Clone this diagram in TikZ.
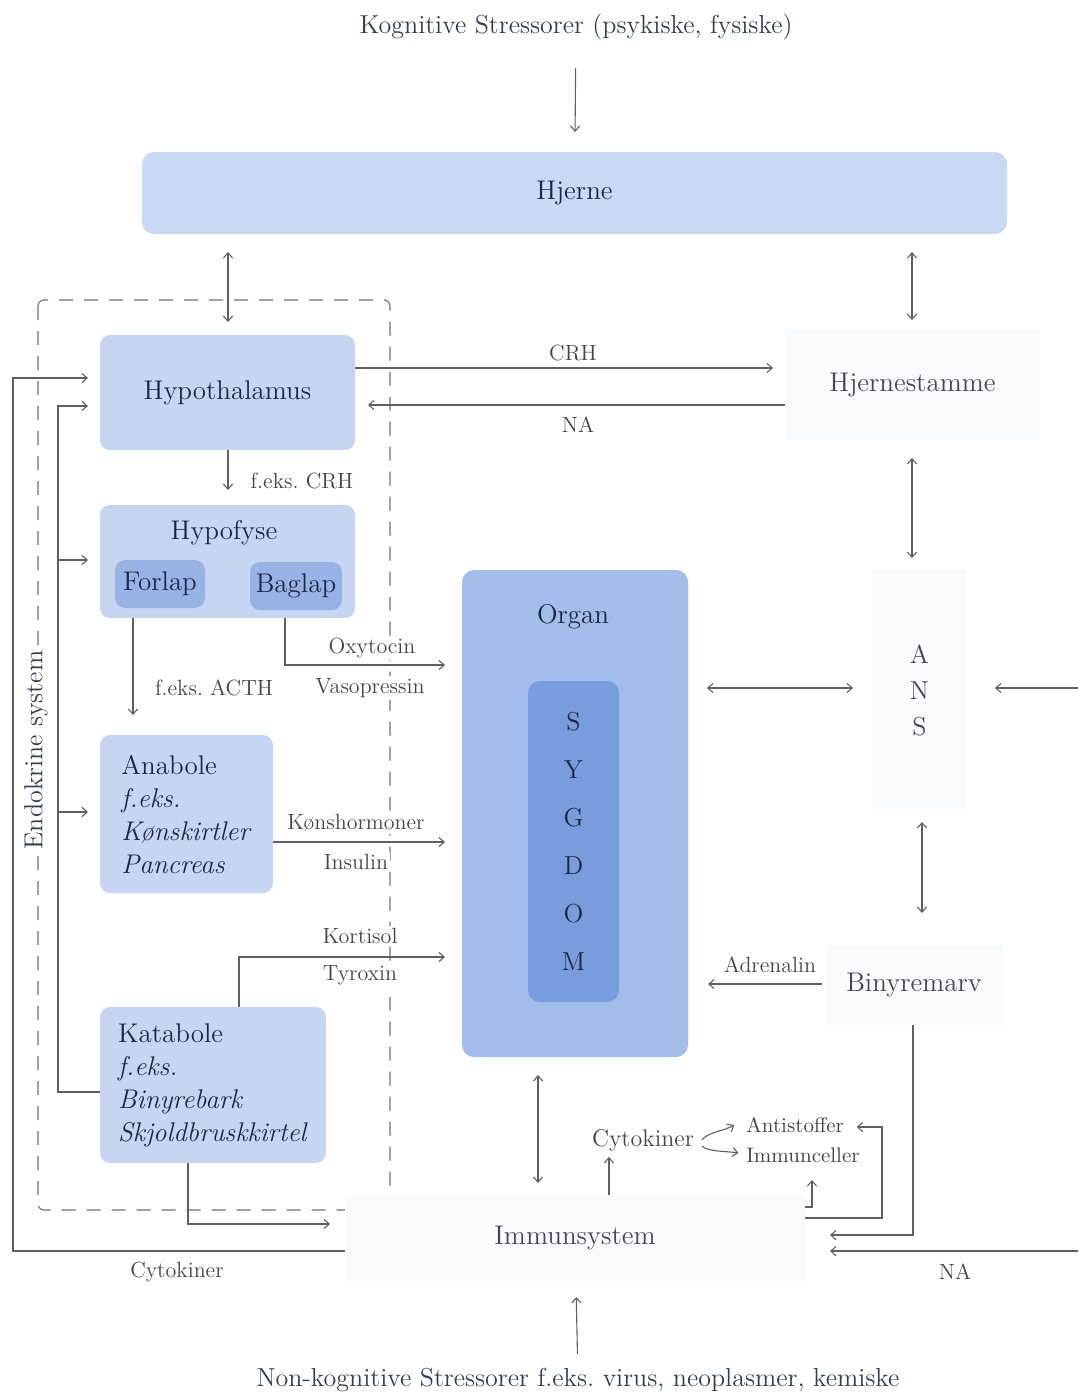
\documentclass[tikz,border=0pt]{standalone}
\usepackage{fontspec}
\usetikzlibrary{arrows.meta,calc}
\frenchspacing
\definecolor{textc}{HTML}{1D2640}
\definecolor{labc}{HTML}{454545}
\definecolor{linec}{HTML}{606060}
\definecolor{boxA}{HTML}{C6D6F2}
\definecolor{boxHj}{HTML}{C9D9F3}
\definecolor{boxSub}{HTML}{97B3E5}
\definecolor{boxOrg}{HTML}{A3BDEA}
\definecolor{boxSyg}{HTML}{789DDF}
\definecolor{boxFaint}{HTML}{F9FAFB}
\newcommand\boxfont{\fontsize{13.5}{16.5}\selectfont}
\newcommand\labfont{\fontsize{11}{13}\selectfont}
% box from corner (x1,y1) to (x2,y2), given in picture units
\newcommand\placebox[7]{\node[#6, minimum width={(#4-#2)*0.5pt}, minimum height={(#5-#3)*0.5pt}] (#1) at ({(#2+#4)/2},{(#3+#5)/2}) {#7};}
\begin{document}
\begin{tikzpicture}[x=0.5pt,y=-0.5pt,
  every node/.style={inner sep=0pt, outer sep=0pt},
  blk/.style={fill=boxA, rounded corners=5pt, text=textc, font=\boxfont, align=left},
  hjbox/.style={fill=boxHj, rounded corners=6pt, text=textc, font=\boxfont},
  subbox/.style={fill=boxSub, rounded corners=5pt, text=textc, font=\boxfont},
  organbox/.style={fill=boxOrg, rounded corners=6pt},
  sygbox/.style={fill=boxSyg, rounded corners=6pt, text=textc, align=center, font=\fontsize{13}{24}\selectfont},
  faint/.style={fill=boxFaint, text=textc!85, font=\boxfont, align=center},
  ttl/.style={text=textc, font=\boxfont},
  lab/.style={text=labc, font=\labfont, fill=white, inner sep=1pt},
  ln/.style={draw=linec, line width=0.55pt},
  arr/.style={ln, -{Straight Barb[length=2.6pt,width=4.6pt]}},
  dbl/.style={ln, {Straight Barb[length=2.6pt,width=4.6pt]}-{Straight Barb[length=2.6pt,width=4.6pt]}},
  framedash/.style={draw=linec!90, line width=0.55pt, dash pattern=on 7pt off 5.5pt}
]
\useasboundingbox (0,0) rectangle (1078,1398);

% stressor texts
\node[text=textc!90, font=\fontsize{13}{15}\selectfont] (kog) at (576,27) {Kognitive Stressorer (psykiske, fysiske)};
\node[text=textc!90, font=\fontsize{13}{15}\selectfont] (nonkog) at (578,1380) {Non-kognitive Stressorer f.eks. virus, neoplasmer, kemiske};

% endocrine frame
\draw[framedash, rounded corners=3pt] (38,300) rectangle (390,1210);
\node[rotate=90, fill=white, text=textc!90, font=\fontsize{13}{15}\selectfont, inner sep=2pt] (endo) at (36,750) {Endokrine system};

% boxes
\placebox{hj}{142}{152}{1007}{234}{hjbox}{Hjerne}
\placebox{hyp}{100}{335}{355}{450}{blk}{Hypothalamus}
\placebox{hpf}{100}{505}{355}{618}{blk}{}
\node[ttl] (hpft) at (224,533) {Hypofyse};
\placebox{fl}{115}{560}{205}{608}{subbox}{Forlap}
\placebox{bl}{250}{562}{342}{610}{subbox}{Baglap}
\placebox{ana}{100}{735}{273}{893}{blk}{Anabole\\ \textit{f.eks.}\\ \textit{Kønskirtler}\\ \textit{Pancreas}}
\placebox{kat}{100}{1007}{326}{1163}{blk}{Katabole\\ \textit{f.eks.}\\ \textit{Binyrebark}\\ \textit{Skjoldbruskkirtel}}
\placebox{org}{462}{570}{688}{1057}{organbox}{}
\node[ttl] (orgt) at (573,617) {Organ};
\placebox{syg}{528}{681}{619}{1002}{sygbox}{S\\Y\\G\\D\\O\\M}
\placebox{hs}{785}{330}{1040}{440}{faint}{Hjernestamme}
\placebox{ans}{872}{570}{967}{810}{faint,font=\fontsize{13}{18}\selectfont}{A\\N\\S}
\placebox{bm}{825}{945}{1003}{1025}{faint}{Binyremarv}
\placebox{imm}{345}{1195}{805}{1282}{faint}{Immunsystem}

% top and bottom inputs
\draw[arr, shorten <=14pt, shorten >=10pt] (kog) -- (hj);
\draw[arr, shorten <=7pt, shorten >=7.5pt] (nonkog) -- (imm);

% Hjerne links
\draw[dbl, shorten <=9pt, shorten >=6.5pt] (228,0 |- hj.south) -- (228,0 |- hyp.north);
\draw[dbl, shorten <=9pt, shorten >=5pt] (912,0 |- hj.south) -- (912,0 |- hs.north);

% hypothalamus - hypofyse
\draw[arr, shorten >=7.5pt] (228,0 |- hyp.south) -- (228,0 |- hpf.north);
\node[lab] (lcrh1) at (302,481) {f.eks. CRH};

% hypofyse outputs
\draw[arr, shorten >=10pt] (133,0 |- hpf.south) -- (133,0 |- ana.north);
\node[lab] (lacth) at (214,688) {f.eks. ACTH};
\draw[arr, shorten >=8.5pt] (285,0 |- hpf.south) |- (org.west |- 0,665);
\node[lab] (loxy) at (372,648) {Oxytocin};
\node[lab] (lvaso) at (370,688) {Vasopressin};

% anabole / katabole outputs
\draw[arr, shorten >=8.5pt] (ana.east |- 0,842) -- (org.west |- 0,842);
\node[lab] (lkon) at (356,823) {Kønshormoner};
\node[lab] (lins) at (356,862) {Insulin};
\draw[arr, shorten >=8.5pt] (239,0 |- kat.north) |- (org.west |- 0,957);
\node[lab] (lkor) at (360,936) {Kortisol};
\node[lab] (ltyr) at (360,975) {Tyroxin};
\draw[arr, shorten >=7.5pt] (188,0 |- kat.south) |- (imm.west |- 0,1224);

% feedback to hypothalamus
\draw[arr, shorten >=6pt] (imm.west |- 0,1251) -| (13,378) -- (hyp.west |- 0,378);
\node[lab] (lcyt1) at (177,1272) {Cytokiner};
\draw[arr, shorten >=6pt] (kat.west |- 0,1092) -| (58,406) -- (hyp.west |- 0,406);
\draw[arr, shorten >=6pt] (58,560) -- (hpf.west |- 0,560);
\draw[arr, shorten >=6pt] (58,812) -- (ana.west |- 0,812);

% hypothalamus - hjernestamme
\draw[arr, shorten >=6pt] (hyp.east |- 0,368) -- (hs.west |- 0,368);
\node[lab] (lcrh2) at (573,353) {CRH};
\draw[arr, shorten >=6.5pt] (hs.west |- 0,405) -- (hyp.east |- 0,405);
\node[lab] (lna1) at (578,425) {NA};

% autonomic chain
\draw[dbl, shorten <=9pt, shorten >=6pt] (912,0 |- hs.south) -- (912,0 |- ans.north);
\draw[dbl, shorten <=9.5pt, shorten >=9.5pt] (org.east |- 0,688) -- (ans.west |- 0,688);
\coordinate (rin) at (1078,688);
\draw[arr, shorten >=14pt] (rin) -- (ans.east |- rin);
\draw[dbl, shorten <=6pt, shorten >=16pt] (922,0 |- ans.south) -- (922,0 |- bm.north);
\draw[arr, shorten <=1.5pt, shorten >=10pt] (bm.west |- 0,984) -- (org.east |- 0,984);
\node[lab] (ladr) at (770,965) {Adrenalin};

% organ - immune system
\draw[dbl, shorten <=9pt, shorten >=6pt] (538,0 |- org.south) -- (538,0 |- imm.north);
\node[text=labc, font=\fontsize{12}{14}\selectfont] (cyt) at (643,1140) {Cytokiner};
\draw[arr, shorten >=3pt] (609,0 |- imm.north) -- (609,0 |- cyt.south);
\node[text=labc, font=\fontsize{10.5}{12}\selectfont] (ant) at (795,1125) {Antistoffer};
\node[text=labc, font=\fontsize{10.5}{12}\selectfont] (imc) at (803,1155) {Immunceller};
\draw[arr] ($(cyt.east)+(8,0)$) .. controls ($(cyt.east)+(14,-8)$) and ($(ant.west)+(-22,6)$) .. ($(ant.west)+(-12,0)$);
\draw[arr] ($(cyt.east)+(8,6)$) .. controls ($(cyt.east)+(14,12)$) and ($(imc.west)+(-20,-4)$) .. ($(imc.west)+(-8,-2)$);
\draw[arr, shorten >=6.5pt] (imm.east |- 0,1218) -| (882,1127) -- (ant.east |- 0,1127);
\draw[arr] (imm.east |- 0,1207) -| (812,1180);

% inputs to immune system
\draw[arr, shorten >=12.5pt] (913,0 |- bm.south) |- (imm.east |- 0,1235);
\coordinate (rna) at (1078,1251);
\draw[arr, shorten >=12.5pt] (rna) -- (imm.east |- rna);
\node[lab] (lna2) at (955,1272) {NA};
\end{tikzpicture}
\end{document}
